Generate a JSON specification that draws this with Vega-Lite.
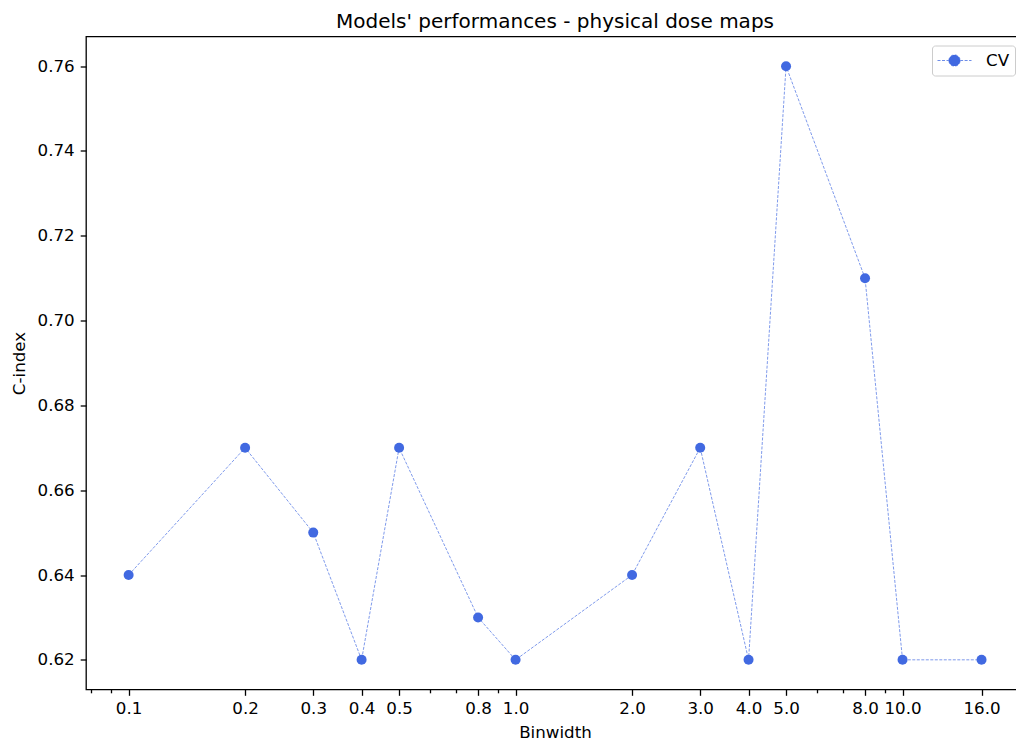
{
  "$schema": "https://vega.github.io/schema/vega-lite/v6.json",
  "width": 938,
  "height": 653,
  "autosize": {"type": "none"},
  "padding": {"left": 86, "top": 36.5, "right": 0, "bottom": 56},
  "background": "white",
  "title": {
    "text": "Models' performances - physical dose maps",
    "font": "DejaVu Sans",
    "fontSize": 20,
    "fontWeight": "normal",
    "color": "black",
    "anchor": "middle",
    "offset": 5
  },
  "config": {
    "view": {"stroke": "black", "strokeWidth": 1.3},
    "axis": {
      "grid": false,
      "domain": false,
      "tickColor": "black",
      "tickWidth": 1.3,
      "tickSize": 5.8,
      "labelFont": "DejaVu Sans",
      "labelFontSize": 16.7,
      "labelColor": "black",
      "labelFlush": false,
      "labelOverlap": false,
      "titleFont": "DejaVu Sans",
      "titleFontSize": 16.7,
      "titleFontWeight": "normal",
      "titleColor": "black"
    }
  },
  "data": {
    "values": [
      {"binwidth": 0.1, "cindex": 0.64, "series": "CV"},
      {"binwidth": 0.2, "cindex": 0.67, "series": "CV"},
      {"binwidth": 0.3, "cindex": 0.65, "series": "CV"},
      {"binwidth": 0.4, "cindex": 0.62, "series": "CV"},
      {"binwidth": 0.5, "cindex": 0.67, "series": "CV"},
      {"binwidth": 0.8, "cindex": 0.63, "series": "CV"},
      {"binwidth": 1.0, "cindex": 0.62, "series": "CV"},
      {"binwidth": 2.0, "cindex": 0.64, "series": "CV"},
      {"binwidth": 3.0, "cindex": 0.67, "series": "CV"},
      {"binwidth": 4.0, "cindex": 0.62, "series": "CV"},
      {"binwidth": 5.0, "cindex": 0.76, "series": "CV"},
      {"binwidth": 8.0, "cindex": 0.71, "series": "CV"},
      {"binwidth": 10.0, "cindex": 0.62, "series": "CV"},
      {"binwidth": 16.0, "cindex": 0.62, "series": "CV"}
    ]
  },
  "encoding": {
    "x": {
      "field": "binwidth",
      "type": "quantitative",
      "scale": {"type": "log", "domain": [0.0776, 20.6], "nice": false},
      "axis": {
        "title": "Binwidth",
        "titlePadding": 7,
        "labelPadding": 5,
        "values": [0.08, 0.09, 0.1, 0.2, 0.3, 0.4, 0.5, 0.6, 0.7, 0.8, 0.9, 1, 2, 3, 4, 5, 6, 7, 8, 9, 10, 16, 20],
        "labelExpr": "indexof([0.08, 0.09, 0.6, 0.7, 0.9, 6, 7, 9, 20], datum.value) >= 0 ? '' : format(datum.value, '.1f')",
        "tickSize": {
          "condition": {"test": "indexof([0.08, 0.09, 0.6, 0.7, 0.9, 6, 7, 9, 20], datum.value) >= 0", "value": 3.3},
          "value": 5.8
        }
      }
    },
    "y": {
      "field": "cindex",
      "type": "quantitative",
      "scale": {"domain": [0.613, 0.767], "nice": false, "zero": false},
      "axis": {
        "title": "C-index",
        "titlePadding": 9,
        "labelPadding": 6,
        "values": [0.62, 0.64, 0.66, 0.68, 0.7, 0.72, 0.74, 0.76],
        "format": ".2f"
      }
    }
  },
  "layer": [
    {
      "mark": {
        "type": "line",
        "strokeWidth": 0.85,
        "strokeDash": [3, 1.5],
        "opacity": 0.8
      },
      "encoding": {
        "color": {"field": "series", "type": "nominal", "scale": {"range": ["#4169E1"]}}
      }
    },
    {
      "mark": {"type": "point", "filled": true, "opacity": 1, "size": 100},
      "encoding": {
        "color": {
          "field": "series",
          "type": "nominal",
          "scale": {"range": ["#4169E1"]},
          "legend": {
            "title": null,
            "orient": "top-right",
            "offset": 9,
            "padding": 5,
            "strokeColor": "#cccccc",
            "fillColor": "white",
            "cornerRadius": 3,
            "symbolType": "M-1,0H-0.33M0.33,0H1M-0.33,0A0.33,0.33,0,1,1,0.33,0A0.33,0.33,0,1,1,-0.33,0Z",
            "symbolSize": 1156,
            "symbolFillColor": "#4169E1",
            "symbolStrokeColor": "#4169E1",
            "symbolStrokeWidth": 0.85,
            "symbolDash": [3, 1.5],
            "symbolOpacity": 1,
            "clipHeight": 20,
            "labelOffset": 14,
            "labelFont": "DejaVu Sans",
            "labelFontSize": 16.7,
            "labelColor": "black",
            "encode": {
              "symbols": {
                "update": {
                  "opacity": {"value": 1},
                  "fillOpacity": {"value": 1},
                  "strokeOpacity": {"value": 0.9}
                }
              }
            }
          }
        }
      }
    }
  ]
}
